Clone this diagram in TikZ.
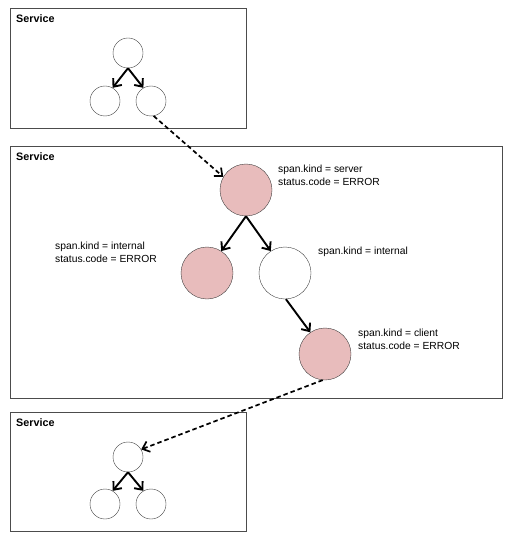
\documentclass[tikz,border=0pt]{standalone}
\usepackage{fontspec}
\setmainfont{Liberation Sans}
\usetikzlibrary{arrows.meta}

\tikzset{
  svcbox/.style={draw=black!70,thin},
  svcname/.style={anchor=north west,inner sep=0pt,font=\bfseries\fontsize{10.8}{12}\selectfont},
  span/.style={circle,draw=black!75,thin,inner sep=0pt},
  small/.style={span,minimum size=30pt},
  big/.style={span,minimum size=52pt},
  err/.style={fill=errpink},
  call/.style={line width=1.9pt,-{Straight Barb[length=6.5pt,width=11pt,line width=1.9pt]}},
  remote/.style={line width=1.7pt,dash pattern=on 4.5pt off 3pt,-{Straight Barb[length=6.5pt,width=11pt,line width=1.7pt]}},
  attr/.style={anchor=north west,align=left,inner sep=0pt,font=\fontsize{10.3}{13}\selectfont}
}
\definecolor{errpink}{RGB}{232,188,188}

\begin{document}
\begin{tikzpicture}[x=1pt,y=-1pt]
            \useasboundingbox (0,0) rectangle (515,540);

            % Draw service boxes
            \draw[svcbox] (10,8) rectangle (246,128);
            \draw[svcbox] (10,146) rectangle (502,398);
            \draw[svcbox] (10,412) rectangle (246,531);
            \node[svcname] (svctop) at (16,14) {Service};
            \node[svcname] (svcmid) at (16,152) {Service};
            \node[svcname] (svcbot) at (16,418) {Service};

            % Upstream service spans
            \node[small] (a0) at (128,53) {};
            \node[small] (a1) at (105,101) {};
            \node[small] (a2) at (151,101) {};
            \draw[call] (a0.south) -- (a1.60);
            \draw[call] (a0.south) -- (a2.120);

            % Spans of this service
            \node[big,err] (srv) at (246,190) {};
            \node[big,err] (int1) at (207,273) {};
            \node[big] (int2) at (285,273) {};
            \node[big,err] (cli) at (325,354) {};
            \draw[call] (srv.south) -- (int1.57);
            \draw[call] (srv.south) -- (int2.123);
            \draw[call] (int2.-88) -- (cli.124);

            % Span attributes
            \node[attr] (srvlbl) at (278,165) {span.kind = server\\status.code = ERROR};
            \node[attr] (int1lbl) at (55,242) {span.kind = internal\\status.code = ERROR};
            \node[attr] (int2lbl) at (318,247) {span.kind = internal};
            \node[attr] (clilbl) at (358,329) {span.kind = client\\status.code = ERROR};

            % Downstream service spans
            \node[small] (b0) at (128,457) {};
            \node[small] (b1) at (105,504) {};
            \node[small] (b2) at (151,504) {};
            \draw[call] (b0.south) -- (b1.60);
            \draw[call] (b0.south) -- (b2.120);

            % Remote calls
            \draw[remote] (a2.-80) -- (srv.150);
            \draw[remote] (cli.-95) -- (b0.30);
        \end{tikzpicture}
\end{document}
